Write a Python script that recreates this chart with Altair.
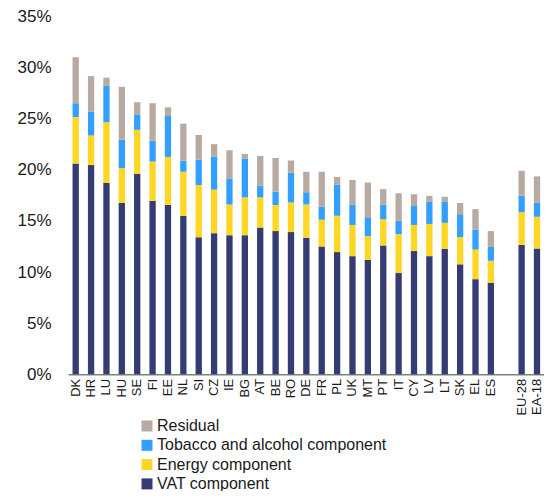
import altair as alt
import pandas as pd

countries = ["DK", "HR", "LU", "HU", "SE", "FI", "EE", "NL", "SI", "CZ", "IE", "BG", "AT", "BE",
             "RO", "DE", "FR", "PL", "UK", "MT", "PT", "IT", "CY", "LV", "LT", "SK", "EL", "ES",
             "EU-28", "EA-18"]
vat = [20.6, 20.45, 18.7, 16.75, 19.6, 16.95, 16.55, 15.5, 13.4, 13.8, 13.6, 13.6, 14.35, 14.0,
       13.9, 13.35, 12.5, 11.95, 11.55, 11.2, 12.6, 9.9, 12.05, 11.55, 12.25, 10.75, 9.3, 8.95,
       12.65, 12.3]
energy = [4.55, 2.9, 5.95, 3.4, 4.3, 3.85, 4.7, 4.3, 5.1, 4.25, 3.0, 3.7, 2.95, 2.55,
          2.9, 3.25, 2.6, 3.55, 3.05, 2.3, 2.55, 3.8, 2.55, 3.15, 2.55, 2.65, 2.9, 2.15,
          3.2, 3.1]
tobacco = [1.35, 2.35, 3.55, 2.8, 1.45, 2.05, 4.0, 1.1, 2.5, 3.25, 2.5, 3.8, 1.15, 1.3,
           2.9, 1.2, 1.3, 3.05, 2.0, 1.85, 1.45, 1.3, 1.85, 2.2, 2.1, 2.25, 1.95, 1.35,
           1.6, 1.4]
residual = [4.5, 3.45, 0.8, 5.15, 1.25, 3.65, 0.85, 3.6, 2.4, 1.2, 2.8, 0.45, 2.9, 3.3,
            1.2, 2.0, 3.4, 0.75, 2.4, 3.4, 1.5, 2.7, 1.15, 0.55, 0.45, 1.1, 2.0, 1.55,
            2.45, 2.55]

series_names = ["Residual", "Tobacco and alcohol component", "Energy component", "VAT component"]
series_colors = ["#B8A9A1", "#33A0FF", "#FFD624", "#353B73"]
x_order = countries[:28] + [" "] + countries[28:]
y_ticks = [0, 5, 10, 15, 20, 25, 30, 35]

rows = []
for c, v, e, t, r in zip(countries, vat, energy, tobacco, residual):
    for k, (name, val) in enumerate([("VAT component", v), ("Energy component", e),
                                     ("Tobacco and alcohol component", t), ("Residual", r)]):
        rows.append({"country": c, "series": name, "value": val, "ord": k})
df = pd.DataFrame(rows)

FONT = "Liberation Sans"

chart = alt.Chart(df).mark_bar().encode(
    x=alt.X("country:N", sort=x_order,
            scale=alt.Scale(domain=x_order, paddingInner=0.5903, paddingOuter=0.2728, align=0.542),
            axis=alt.Axis(title=None, labelAngle=-90, labelAlign="right", labelBaseline="middle",
                          labelPadding=4, ticks=False, domainColor="#808080", domainWidth=1.5,
                          labelFontSize=13, labelFont=FONT, labelColor="#1a1a1a")),
    y=alt.Y("value:Q", stack="zero",
            scale=alt.Scale(domain=[0, 35], nice=False),
            axis=alt.Axis(title=None, values=y_ticks, labelExpr="datum.value + '%'",
                          ticks=False, domain=False, grid=False, labelPadding=17,
                          labelFontSize=17, labelFont=FONT, labelColor="#1a1a1a")),
    color=alt.Color("series:N",
                    scale=alt.Scale(domain=series_names, range=series_colors),
                    legend=alt.Legend(title=None, orient="none", legendX=71, legendY=401.7,
                                      symbolType="square", symbolSize=121, symbolStrokeWidth=0,
                                      labelFontSize=16, labelFont=FONT, labelColor="#1a1a1a",
                                      labelOffset=2, rowPadding=3.3, padding=0,
                                      labelLimit=400)),
    order=alt.Order("ord:Q", sort="ascending"),
).properties(
    width=476, height=358,
    autosize=alt.AutoSizeParams(type="none"),
    padding={"left": 60, "top": 8.3, "right": 0, "bottom": 116.5},
).configure_view(stroke=None)

chart.save("out.html", embed_options={"renderer": "svg", "actions": False})
